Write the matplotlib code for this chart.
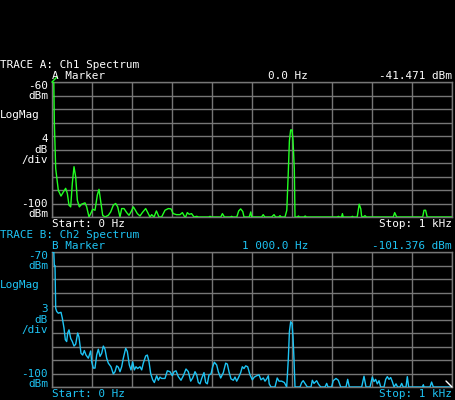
import matplotlib
matplotlib.use("Agg")
import matplotlib.pyplot as plt
import numpy as np

# trace A (Ch1 spectrum), frequency in Hz, level in dBm
freq_a = [0, 4.5, 5.8, 9.2, 11.7, 15.8, 22.5, 28.3, 34.2, 38.3, 42.5, 46.7, 50.8, 55, 59.2,
          63.3, 68.3, 74.2, 82.5, 86.7, 92.5, 96.7, 101.7, 107.5, 113.3, 117.5, 122.5, 126.7,
          132.5, 140.8, 146.7, 153.3, 159.2, 164.2, 170, 174.2, 180, 186.7, 192.5, 197.5,
          203.3, 207.5, 213.3, 220, 225.8, 234.2, 240.8, 245, 249.2, 255, 261, 267.5, 274,
          282.5, 290.8, 297.5, 303, 311, 320, 326, 331, 334, 338.3, 343, 349, 355, 362, 366,
          392, 395, 398, 422, 426, 431, 446, 449, 452, 462, 466.7, 471.7, 477, 480, 493, 497,
          499, 524, 528, 532, 549, 555, 559, 567, 570, 573, 582.5, 587, 591, 593.5, 596.7,
          600, 602.5, 605.8, 607.5, 613, 616, 619, 630, 633, 636, 713, 716, 719, 724, 726,
          728, 748, 751, 754, 763, 766, 768, 772, 774, 778, 782.5, 786, 853, 856.7, 861.7,
          926.7, 930, 934, 938, 1000]
level_a = [-60, -60, -71.7, -85.6, -88.1, -92.1, -93.8, -92.6, -91.5, -93.0, -96.5, -97, -90,
           -85.1, -88.1, -95, -97, -96.2, -95.8, -97, -100.5, -99, -97.7, -98, -93.5, -91.8,
           -96, -99.5, -100.5, -99.5, -98.5, -96.5, -96, -97, -100.5, -97.5, -97.5, -98.7,
           -99.5, -98.5, -97, -97.8, -99, -99.7, -98.7, -97.5, -99, -100.5, -99.3, -100.5,
           -98.2, -100, -100.5, -98, -97.5, -97.6, -99, -99.3, -99.3, -98.7, -99.8, -100.5,
           -98.7, -99.2, -99, -100.5, -99.8, -100.5, -100.5, -99.8, -100.5, -100.5, -99,
           -100.5, -100.5, -99.8, -100.5, -100.5, -98.2, -97.6, -98.4, -100.5, -100.5,
           -98.5, -100.5, -100.5, -99.3, -100.5, -100.5, -99.3, -100.5, -100.5, -99.6,
           -100.5, -100.5, -98, -85.9, -77.4, -74.2, -74.2, -77.2, -85.9, -100.5, -100.5,
           -99.7, -100.5, -100.5, -99.7, -100.5, -100.5, -99.8, -100.5, -100.5, -99, -100.5,
           -100.5, -99.8, -100.5, -100.5, -97.8, -96.2, -97.6, -99.8, -100.5, -99.6, -100.5,
           -100.5, -98.7, -100.5, -100.5, -98, -98, -100.5, -100.5]

# trace B (Ch2 spectrum)
freq_b = [0, 4.5, 5.8, 7.5, 9.2, 11.7, 15.8, 22.5, 25.8, 30, 33.3, 36.7, 39.2, 42.5, 46.7,
          50.8, 55, 59.2, 64.2, 67.5, 72.5, 76.7, 80.8, 85, 90.8, 96.7, 99.2, 103.3, 107.5,
          111.7, 115.8, 120, 124.2, 128.3, 132.5, 136.7, 140.8, 147.5, 153.3, 157.5, 161.7,
          165.8, 170, 174.2, 178.3, 184.2, 188.3, 193.3, 197.5, 201.7, 205.8, 210, 214.2,
          220, 224.2, 228.3, 234.2, 238.3, 242.5, 246.7, 251.7, 255.8, 261.7, 265.8, 270,
          274, 282.5, 288.3, 295, 300.8, 305, 310, 315.8, 322.5, 328.3, 335, 340.8, 346.7,
          351.7, 357.5, 361.7, 365.8, 370, 374.2, 380, 384.2, 388.3, 392.5, 397.5, 401.7,
          405.8, 411.7, 415.8, 421.7, 428.3, 434.2, 438.3, 442.5, 447.5, 453.3, 457.5, 461.7,
          465.8, 471.7, 475.8, 480, 484.2, 489.2, 495, 500.8, 505.8, 511.7, 517.5, 522.5,
          528.3, 532.5, 536.7, 540.8, 543, 547.5, 557.5, 563, 567.5, 574.2, 580.8, 586.7,
          590.8, 593.5, 596.7, 600, 602.5, 605, 607.5, 620, 624.2, 628, 632.5, 638.3, 647.5,
          650.8, 655, 661.7, 665.8, 671.7, 682.5, 686.7, 690, 699, 703, 710, 715.8, 721.7,
          735, 739.2, 743.3, 774.2, 780, 785, 795, 800.8, 805, 809, 813.3, 817.5, 821.7, 830,
          834.2, 838.3, 842.5, 846.7, 850.8, 855, 860, 864, 870, 874.2, 878, 885, 888.3,
          891.7, 926.7, 928.3, 930, 945, 949, 953.3, 1000]
level_b = [-70, -70, -73, -73, -82.5, -83.2, -83.6, -83.4, -84.7, -86.9, -89.5, -89.9, -88,
           -87.3, -89.2, -89.9, -90.9, -90.5, -88, -88.9, -92.5, -92.9, -91.9, -92.9, -93.6,
           -92, -94.4, -95.8, -95.8, -92.9, -91.6, -93.2, -92.5, -90.9, -91.6, -93.6, -94.7,
           -95.5, -97.1, -96.6, -95.3, -95.6, -96.6, -95.5, -93.6, -91.4, -92.1, -95.1,
           -96.2, -94.4, -96.2, -95.5, -95.9, -95.5, -96.2, -94.7, -93.1, -92.9, -94.4, -97,
           -98.4, -99, -97.5, -98.5, -97.8, -98.1, -98.1, -96.4, -96.6, -97.5, -96.6, -96.4,
           -97.7, -98.5, -97.5, -96, -96.6, -98.7, -98, -96.6, -97.3, -99, -99.3, -98.1,
           -96.8, -99, -99.3, -97.3, -97.1, -95.5, -94.5, -95.1, -96.6, -98, -96.8, -94.7,
           -94.9, -96.6, -98.2, -98.5, -97.8, -98.7, -98, -96.8, -95.5, -95.9, -95.3, -95.5,
           -97.3, -98.4, -97.8, -97.5, -97.3, -98.4, -98, -98.7, -98.2, -97.5, -99.3, -100.5,
           -100.5, -98, -98.7, -98.7, -99, -100.5, -93.8, -87.7, -85.5, -85.9, -88.8, -93.9,
           -100.5, -100.5, -99, -98.6, -99.2, -100.5, -100.5, -98.5, -99.2, -98.6, -99.3,
           -100.5, -100.5, -99.2, -100.5, -100.5, -98.6, -98.1, -98.5, -100.5, -100.5, -98.3,
           -100.5, -100.5, -97.6, -100.5, -100.5, -97.8, -98.8, -98.3, -99.3, -98.6, -100.5,
           -100.5, -98.3, -97.7, -98.3, -97.9, -98.8, -100.5, -99.3, -100.5, -100.5, -99.2,
           -100.5, -100.5, -97.7, -100.5, -100.5, -99.5, -100.5, -100.5, -98.9, -100.5,
           -100.5]

marker_a_freq = 0.0
marker_a_level = -41.471
marker_b_freq = 1000.0
marker_b_level = -101.376

top_a, div_a = -60, 4
top_b, div_b = -70, 3

BG = "black"
GRID = "#767676"
GREEN = "#22ff22"
BLUE = "#1ec4f4"
WHITE = "white"
FONT = "DejaVu Sans Mono"
FS = 7.9

W, H = 456, 400

fig = plt.figure(figsize=(W / 100, H / 100), dpi=100, facecolor=BG)


def put(x, y, s, color, ha="left"):
    fig.text(x / W, 1 - y / H, s, color=color, ha=ha, va="center",
             family=FONT, fontsize=FS)


def fmt_hz(v):
    return f"{v:,.1f}".replace(",", " ") + " Hz"


def draw_trace(rect, freqs, levels, top, per_div, color, text_color, name, letter,
               m_freq, m_level, y0, marker_color, marker_offset):
    bottom = top - 10 * per_div
    ax = fig.add_axes([rect[0] / W, 1 - (rect[1] + rect[3]) / H, rect[2] / W, rect[3] / H])
    ax.set_facecolor(BG)
    ax.set_xlim(0, 1000)
    ax.set_ylim(bottom, top)
    ax.set_xticks(np.linspace(0, 1000, 11))
    ax.set_yticks(np.linspace(bottom, top, 11))
    ax.grid(True, color=GRID, linewidth=1.0)
    ax.tick_params(length=0, labelbottom=False, labelleft=False)
    for sp in ax.spines.values():
        sp.set_color(GRID)
        sp.set_linewidth(1.0)

    shown = np.clip(levels, bottom, top)
    ax.plot(freqs, shown, color=color, linewidth=1.0, zorder=3)

    # marker glyph
    mk = float(np.clip(m_level, bottom, top))
    ax.annotate("", xy=(m_freq, mk), xytext=marker_offset, textcoords="offset pixels",
                arrowprops=dict(arrowstyle="-", color=marker_color, lw=1.0,
                                shrinkA=0, shrinkB=0), annotation_clip=False, zorder=4)

    # labels
    put(0, y0, f"TRACE {letter}: {name}", text_color)
    put(52, y0 + 10.5, f"{letter} Marker", text_color)
    put(288 if m_freq == 0 else 275, y0 + 10.5, fmt_hz(m_freq), text_color, ha="center")
    put(452, y0 + 10.5, f"{m_level:.3f} dBm", text_color, ha="right")

    yt = rect[1]
    put(48, yt + 4, f"{top}", text_color, ha="right")
    put(48, yt + 14, "dBm", text_color, ha="right")
    put(0, yt + 33.5, "LogMag", text_color)
    put(48, yt + 57.5, f"{per_div}", text_color, ha="right")
    put(48, yt + 68, "dB", text_color, ha="right")
    put(48, yt + 78.5, "/div", text_color, ha="right")
    put(48, yt + 122, f"{bottom}", text_color, ha="right")
    put(48, yt + 132, "dBm", text_color, ha="right")
    put(52, yt + 142, "Start: 0 Hz", text_color)
    put(452, yt + 142, "Stop: 1 kHz", text_color, ha="right")
    return ax


draw_trace((52, 82, 400, 135), freq_a, level_a, top_a, div_a, GREEN, WHITE,
           "Ch1 Spectrum", "A", marker_a_freq, marker_a_level, 65.5, GREEN, (5, 5))
draw_trace((52, 252, 400, 135), freq_b, level_b, top_b, div_b, BLUE, BLUE,
           "Ch2 Spectrum", "B", marker_b_freq, marker_b_level, 235.5, WHITE, (-6, 6))

fig.savefig("out.png", dpi=100, facecolor=BG)
